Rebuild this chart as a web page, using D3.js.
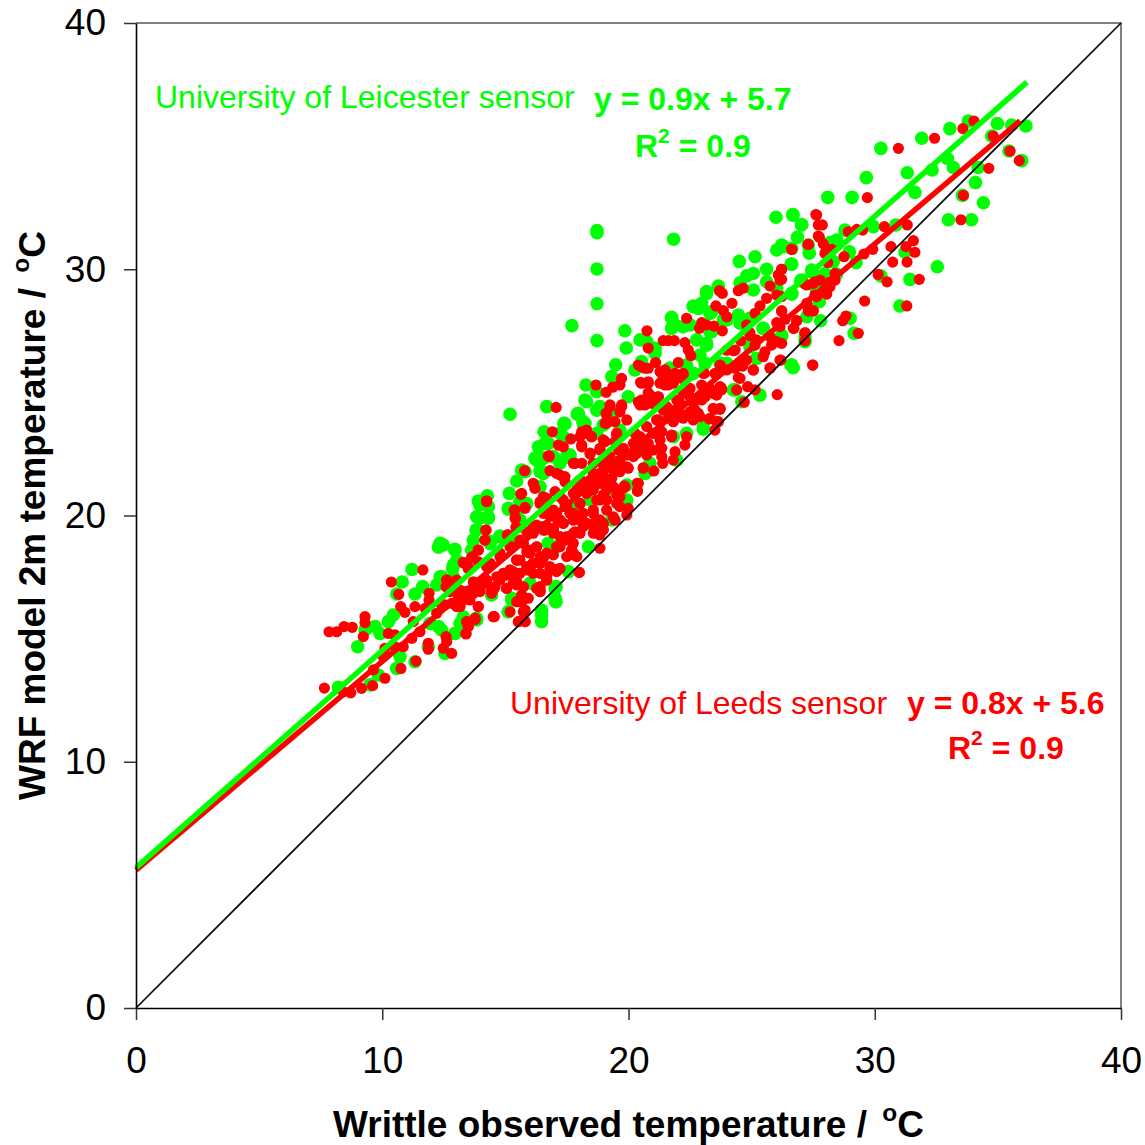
<!DOCTYPE html>
<html>
<head>
<meta charset="utf-8">
<script src="https://cdn.jsdelivr.net/npm/d3@7"></script>
<style>
body { margin: 0; background: #fff; }
svg { display: block; font-family: "Liberation Sans", Arial, sans-serif; }
</style>
</head>
<body>
<svg width="1145" height="1145"></svg>
<script>
// tick values, both axes run 0-40
let ticks = [0, 10, 20, 30, 40];

// [observed, model]
let leicesterPoints = [
[30.25,34.91],[31.91,35.32],[33.05,35.71],[33.8,36.02],[34.98,35.92],[35.56,35.86],[36.14,35.82],[34.75,35.41],[31.32,33.92],[32.33,34.03],
[32.95,34.5],[33.19,34.13],[34.2,34.13],[29.66,33.72],[31.63,33.12],[28.09,32.92],[29.08,32.92],[34.09,33.52],[33.56,33.0],[34.41,32.7],
[32.99,32.01],[33.93,32.01],[35.45,34.8],[35.97,34.41],[26.67,32.2],[27.03,31.8],[26.86,31.3],[28.79,31.59],[29.94,31.73],[30.86,31.8],
[28.45,31.19],[28.18,31.08],[27.3,30.98],[26.29,30.92],[28.97,30.71],[29.24,30.27],[28.32,30.31],[26.6,30.21],[27.98,29.83],[27.46,29.9],
[26.99,29.53],[26.63,29.02],[28.45,29.81],[27.64,29.16],[27.75,28.68],[27.24,28.07],[27.8,27.91],[29.0,28.01],[29.16,27.4],[30.25,29.73],
[31.23,30.69],[31.43,29.59],[31.02,28.51],[32.54,30.1],[27.17,27.26],[26.22,27.29],[26.6,26.11],[26.69,26.0],
[18.72,31.57],[18.72,31.48],[21.83,31.22],[18.72,30.01],[18.72,28.6],[17.7,27.71],[18.72,27.1],[19.85,27.5],[19.91,26.8],[25.99,32.11],
[26.68,32.22],[27.03,31.82],[26.22,30.98],[26.02,30.78],[26.63,30.85],[27.34,30.65],[25.14,30.51],[24.5,30.32],[26.63,30.21],[25.61,30.0],
[25.07,29.83],[24.8,29.73],[24.53,29.45],[23.65,29.32],[23.17,29.09],[25.61,29.49],[25.07,29.16],[26.02,29.23],[26.63,28.99],[27.44,29.97],
[27.03,29.56],[22.63,28.51],[22.97,28.62],[23.38,28.28],[21.75,28.05],[21.89,27.74],[22.5,27.74],[23.38,27.46],[24.46,28.14],[23.99,27.94],
[25.47,27.6],[26.22,27.33],[27.17,27.06],[26.63,26.11],[25.34,24.89],[24.6,24.62],[23.04,23.5],[20.47,27.13],[21.08,26.79],[23.17,26.92],
[22.77,27.13],[19.48,26.12],[20.26,25.91],[21.68,25.98],[23.11,26.18],[19.32,25.64],[18.27,25.3],[18.23,24.69],[18.71,25.03],[18.84,24.42],
[19.99,24.82],[16.68,24.42],[17.92,24.12],[17.42,23.72],[18.23,23.74],[16.57,23.4],[16.34,22.79],[16.2,22.32],[16.95,22.39],[17.62,22.39],
[15.8,21.78],[16.54,21.71],[16.41,21.17],[20.74,21.78],[21.96,22.25],[22.36,23.34],[24.26,25.1],[23.72,26.18],[24.93,26.86],
[15.19,24.11],[17.94,24.11],[17.39,23.72],[16.74,22.93],[17.35,23.2],[16.27,22.25],[17.49,22.39],[15.66,21.85],[16.41,21.85],[15.46,21.4],
[15.16,20.9],[14.27,20.8],[13.9,20.59],[14.31,20.36],[13.97,19.89],[14.31,19.89],[15.12,20.26],[13.83,19.41],[14.78,19.17],[12.35,18.87],
[12.28,18.71],[12.95,18.63],[13.7,19.0],[13.63,18.6],[13.02,18.19],[12.86,17.85],[11.21,17.81],[10.81,17.3],[11.64,17.11],[11.33,16.81],
[10.59,16.81],[12.21,17.18],[12.35,17.51],[10.45,15.96],[10.25,15.69],[9.71,15.49],[9.91,15.21],[9.3,15.35],[9.0,14.67],[12.28,15.49],
[11.94,15.62],[12.95,15.21],[11.87,14.67],[12.55,14.4],[11.33,14.06],[10.72,14.27],[10.59,13.79],[9.84,13.52],[9.5,13.12],[8.22,13.02],
[13.29,15.89],[13.83,15.83],[15.12,16.09],[15.26,16.57],[16.47,16.16],[16.47,15.69],[17.06,16.5],[17.06,17.11],[17.56,17.72],[18.37,18.73],
[14.38,18.94],[15.87,20.49],[15.46,20.09],[14.44,16.77],[15.32,18.87],[12.89,17.51],[19.93,20.63],[17.02,16.64],[19.05,20.83],[17.9,20.29],[18.16,23.74],
[17.96,24.15],[18.16,23.81],[17.38,23.74],[17.22,23.34],[16.61,22.93],[17.62,22.46],[16.54,22.32],[17.22,22.12],[16.41,21.78],[18.71,24.28],
[18.98,23.68],[18.71,23.34],[19.38,24.15],[19.65,23.47],[18.3,24.62],[19.93,21.24],[20.67,21.71],[20.87,22.12],[21.82,23.2],[19.79,20.49],
[19.32,19.82],[18.44,20.63],[13.97,20.43],[13.83,19.95],[14.31,19.95],[13.81,19.41],[14.78,19.14],[14.38,18.87],[12.48,18.8],[12.95,18.6],
[12.89,17.99],[12.41,17.51],[15.12,20.29],[15.59,19.82],[15.59,20.56],[17.02,17.04],[17.04,16.5],[16.47,15.96],[15.12,16.09],[15.26,16.64],
[13.83,15.76],[13.16,15.62],[12.95,15.21],[12.41,15.35],[16.0,17.25],[17.08,18.73],[16.74,18.87],[21.75,28.01],[21.75,27.6],[22.22,27.67],
[22.63,28.48],[22.84,28.41],[23.17,29.02],[23.31,28.21],[23.31,27.46],[23.85,27.94],[24.53,27.81],[24.93,28.01],[25.47,27.6],[24.33,25.1],
[20.74,27.06],[21.08,26.59],[20.53,26.25],[21.68,25.98],[22.36,26.11],[23.17,26.99],[22.9,26.52],[25.2,26.38],[23.99,26.18],[22.63,25.77],[23.04,23.6]
];

let leedsPoints = [
[30.96,34.91],[32.43,35.32],[33.58,35.71],[34.03,36.02],[34.81,35.41],[35.49,34.8],[35.87,34.41],[34.63,34.1],[29.7,32.91],[33.6,33.0],
[33.5,32.01],[27.64,32.2],[27.87,31.8],[27.75,31.3],[28.93,31.52],[29.27,31.62],[29.51,31.59],[30.39,31.73],[31.32,31.8],[27.3,31.01],
[26.63,30.81],[27.91,31.03],[28.25,30.81],[27.98,30.65],[28.75,30.51],[28.09,30.27],[26.22,30.0],[26.22,29.59],[29.56,30.62],[29.92,30.81],
[30.66,30.92],[31.57,31.16],[31.27,30.92],[31.63,30.69],[30.73,30.29],[31.31,30.29],[30.14,29.79],[30.5,29.49],[31.81,29.59],[31.3,28.51],
[29.59,28.71],[28.83,28.1],[28.7,27.91],[29.33,27.4],[28.55,27.1],[27.17,27.42],[27.17,27.09],[27.48,26.11],[26.69,27.6],[26.83,27.91],
[26.22,28.28],[26.36,27.97],[27.24,28.62],[27.3,28.3],[27.5,28.3],[27.64,28.89],[28.05,28.99],[28.18,29.29],[28.39,29.56],[28.18,29.48],
[27.78,29.56],[27.5,29.43],[27.17,29.4],[28.39,29.83],[26.22,28.89],[26.22,26.99],[26.19,26.31],
[20.75,27.5],[20.8,26.8],[21.41,27.1],[21.62,27.1],[21.86,27.1],[22.29,27.02],[22.43,26.72],[22.53,26.49],[22.36,28.01],[22.97,27.83],
[22.88,27.6],[23.17,27.74],[23.47,27.69],[23.81,27.5],[23.55,28.51],[23.85,28.32],[23.99,28.07],[24.2,28.62],[23.69,29.13],[23.81,29.02],
[24.46,29.13],[24.66,29.23],[25.75,29.32],[25.61,28.82],[26.02,28.95],[25.34,28.51],[25.14,28.21],[26.63,30.81],[27.3,31.01],[27.61,32.22],
[27.71,31.8],[27.71,31.35],[26.22,30.0],[26.08,29.77],[26.15,29.56],[27.24,29.36],[27.57,29.49],[27.57,28.95],[27.26,28.55],[27.5,28.32],
[26.22,28.32],[26.02,27.83],[26.83,27.91],[26.72,27.6],[27.17,27.42],[27.17,27.1],[26.02,27.06],[25.81,26.92],[25.54,26.65],[25.47,26.45],
[26.15,26.31],[25.75,26.0],[27.48,26.11],[26.04,24.91],[24.8,27.74],[24.93,27.3],[24.56,27.09],[25.14,26.92],[23.99,26.71],[24.26,26.69],
[24.8,26.31],[24.64,26.07],[25.07,25.91],[24.46,25.6],[23.72,26.11],[23.99,25.91],[23.58,25.77],[23.08,25.77],[22.02,26.21],[21.1,26.21],
[20.4,26.11],[20.67,25.98],[21.41,25.8],[21.68,25.64],[22.22,25.71],[21.89,25.77],[21.41,25.37],[21.62,25.3],[20.49,25.41],[20.8,25.43],
[19.72,25.57],[19.65,25.3],[18.68,25.3],[19.09,25.0],[19.36,25.21],[19.72,24.49],[19.65,24.21],[19.25,24.49],[19.09,24.15],[20.4,24.62],
[20.67,24.49],[20.87,24.76],[20.8,24.99],[21.21,24.82],[17.06,24.39],[16.91,23.4],[17.66,23.11],[17.15,22.86],[17.35,22.79],[18.1,23.4],
[18.3,23.47],[18.5,23.2],[18.1,22.79],[19.05,23.74],[19.52,23.34],[19.05,23.0],[18.84,22.73],[18.44,22.5],[17.83,22.12],[18.1,22.12],
[16.77,22.39],[16.81,21.82],[17.08,21.71],[17.42,21.58],[15.78,21.82],[16.13,21.31],[16.2,21.1],[15.66,20.9],[16.54,20.76],
[20.6,21.94],[21.03,21.81],[21.39,22.12],[21.82,22.25],[21.89,22.59],[21.75,23.2],[22.29,22.86],[22.36,23.2],[22.63,23.88],[22.83,24.15],
[22.5,24.21],[22.22,23.95],[22.97,24.69],[23.11,24.82],[23.58,24.89],[23.78,25.16],[23.44,25.03],[23.51,24.31],[23.72,24.31],[23.28,23.92],
[23.58,23.81],[23.51,23.47],[24.39,25.1],[24.84,25.23],[25.14,25.1],[24.7,24.6],[21.55,24.42],[21.96,24.69],[21.82,24.01],[22.22,24.08],
[21.28,23.81],[20.74,23.61],[20.26,23.34],[21.0,23.34],[21.28,23.47],[20.33,22.79],[20.74,22.53],[21.28,22.73],[21.35,22.39],[20.8,22.93],
[20.2,22.39],[19.79,22.73],[19.25,22.12],[19.65,22.12],[19.93,21.98],[19.83,21.2],[20.36,21.31],[20.36,20.99],[18.84,21.71],[18.44,21.44],
[18.84,21.31],[19.25,21.31],[18.57,21.04],[18.98,20.83],[19.52,21.04],[18.03,21.17],[17.76,20.9],[17.22,20.76],[19.65,20.76],
[18.23,23.36],[18.03,23.2],[16.74,22.42],[15.63,20.86],[14.24,20.6],[15.8,20.29],[15.36,20.22],[15.42,19.89],[16.41,20.56],[16.68,20.7],
[16.95,20.09],[17.42,20.36],[17.22,19.82],[17.76,19.82],[18.3,20.9],[18.57,21.31],[18.71,20.63],[18.16,20.09],[18.57,19.68],[18.16,19.55],
[14.21,19.41],[14.17,19.0],[15.43,19.52],[15.08,19.21],[13.9,18.6],[13.67,18.33],[13.29,18.08],[13.49,17.85],[14.24,17.92],[11.65,17.79],
[10.37,17.3],[10.67,16.8],[12.62,17.38],[12.59,17.11],[11.9,16.84],[11.9,16.57],[10.75,16.3],[10.92,16.07],[11.33,16.3],[11.74,16.23],
[12.21,16.03],[12.55,16.37],[13.02,16.3],[13.29,16.57],[13.56,16.84],[13.97,16.91],[13.9,16.3],[13.43,16.91],[13.09,16.7],[12.75,16.91],
[13.16,16.97],[14.24,17.38],[13.7,17.31],[14.44,17.04],[14.58,17.11],[15.05,17.58],[14.78,17.51],[15.46,18.19],[15.32,17.51],[15.05,17.04],
[15.46,17.31],[15.87,17.79],[16.13,18.06],[16.41,18.33],[16.0,18.6],[16.27,18.73],[16.68,17.51],[16.41,17.11],[16.41,16.91],[17.08,17.72],
[16.81,17.92],[15.73,16.57],[15.46,16.5],[15.8,16.16],[15.19,16.09],[15.53,15.69],[15.8,15.69],[14.55,15.89],[13.43,15.69],[13.77,15.78],
[13.49,15.49],[13.4,15.19],[18.0,17.69],[17.69,18.6],[17.9,18.33],[17.08,18.73],[17.22,19.14],[16.68,19.55],[16.13,19.28],[15.59,19.0],
[15.19,18.73],[14.78,18.47],[14.38,18.06],[9.3,15.89],[9.3,15.65],[8.78,15.46],[8.45,15.49],[8.15,15.28],[7.84,15.28],[9.23,15.08],
[10.25,15.21],[10.52,15.15],[11.26,15.69],[11.53,15.28],[11.2,15.01],[10.85,14.67],[10.52,14.67],[10.11,14.61],[11.87,14.81],[11.87,14.57],
[12.59,15.08],[12.62,14.88],[12.48,14.61],[12.82,14.4],[11.37,14.09],[10.76,13.79],[10.11,13.39],[9.61,13.09],[9.16,12.98],[8.72,12.8],
[8.42,12.84],[7.65,12.99],[10.04,14.27],[9.64,13.73],
[18.03,20.49],[18.57,20.22],[19.11,20.63],[19.38,21.17],[18.84,21.31],[18.3,21.04],[19.38,21.85],[18.57,22.12],[19.11,22.25],[19.65,22.25],
[18.03,21.44],[17.35,20.63],[17.08,19.95],[17.76,19.82],[18.3,19.68],[18.84,19.82],[19.38,19.95],[19.65,20.36],[18.03,19.28],[18.57,19.28],
[18.84,18.67],[17.49,19.0],[16.95,19.41],[16.54,19.55],[16.13,19.55],[17.76,18.47],[17.22,18.73],[16.68,18.47],[16.0,18.47],[15.59,18.19],
[16.41,18.06],[17.02,17.79],[16.68,17.38],[16.13,17.65],[15.19,17.79],[14.92,17.65],[15.73,17.11],[16.41,16.97],[15.32,17.25],[14.51,16.97],
[14.24,17.25],[18.0,17.69],[20.4,21.31],[20.37,20.99],[19.86,21.17],[20.74,22.66],[19.45,19.82],[19.93,20.02],[18.98,19.41],
[18.3,23.34],[18.1,22.86],[18.5,23.2],[18.44,22.53],[18.98,23.07],[19.52,23.27],[19.45,23.0],[18.84,22.66],[19.11,23.74],[19.45,23.81],
[19.93,23.88],[19.72,24.42],[19.25,24.42],[19.11,24.08],[20.47,24.49],[20.87,24.62],[21.14,23.88],[21.62,23.95],[21.55,24.28],[21.01,23.34],
[21.35,23.4],[21.75,23.27],[20.47,23.2],[20.2,22.93],[20.74,22.93],[21.28,23.07],[21.01,22.66],[21.35,22.73],[20.74,22.46],[20.33,22.53],
[19.93,22.46],[19.59,22.66],[19.25,22.39],[18.98,22.05],[19.52,22.05],[19.99,21.92],[19.65,21.78],[20.6,21.92],[19.32,21.51],[18.98,21.58],
[18.57,21.71],[18.16,21.37],[18.57,21.17],[19.11,21.04],[19.52,20.83],[18.84,20.63],[18.3,20.9],[17.9,21.04],[18.03,20.49],[17.49,20.36],
[17.08,20.09],[17.76,20.09],[16.68,20.09],[16.61,20.63],[18.03,19.82],[18.57,20.09],[19.11,20.22],[19.52,20.49],[18.57,19.55],[18.98,19.68],
[17.35,19.68],[16.95,19.48],[17.76,19.28],[16.61,19.41],[18.84,19.21],[19.45,19.82],[19.99,20.29],[19.79,21.1],[17.76,22.12],[17.22,21.64],
[17.02,20.97],[17.42,21.37],[16.78,22.42],
[14.24,20.56],[14.21,19.41],[14.17,19.0],[15.39,20.22],[15.39,19.89],[15.8,20.33],[15.12,19.21],[15.46,19.48],[15.87,19.34],[16.27,19.61],
[13.9,18.6],[13.63,18.3],[13.29,18.1],[13.49,17.92],[13.9,18.12],[12.62,17.38],[12.68,17.18],[13.02,17.38],[13.16,16.84],[13.43,16.91],
[13.7,16.84],[13.97,16.97],[14.44,16.84],[12.41,16.37],[12.82,16.43],[13.16,16.3],[13.9,16.3],[13.56,16.57],[14.51,15.89],[13.43,15.69],
[13.77,15.83],[13.49,15.49],[13.4,15.21],[14.92,17.65],[15.32,17.72],[14.65,17.51],[15.59,17.65],[14.78,17.38],[15.46,18.19],[15.87,18.53],
[16.27,18.73],[16.54,18.26],[16.95,18.4],[16.13,18.06],[15.87,17.92],[16.41,17.65],[16.81,17.79],[17.08,17.79],[16.68,17.38],[16.27,17.04],
[16.41,16.91],[15.05,17.04],[15.46,17.18],[15.66,16.77],[15.59,16.5],[15.93,16.64],[15.73,16.09],[15.53,15.69],[15.8,15.69],[16.54,19.41],
[16.95,19.28],[17.35,19.68],[17.62,20.09],[16.54,20.09],[16.95,20.22],[16.41,20.49],[17.08,19.89],[17.83,19.34],[17.49,19.14],[17.76,18.87],
[17.49,18.33],[17.76,18.4],[17.22,17.85],[15.73,18.87],[15.26,18.73],[14.78,18.33],[14.1,17.38],[13.83,17.25],
[20.53,26.04],[20.8,25.98],[21.28,25.84],[21.48,25.91],[21.75,25.71],[22.22,25.77],[22.16,25.57],[21.41,25.57],[21.48,25.3],[21.82,25.37],
[21.28,25.37],[20.53,25.37],[20.8,25.37],[20.87,24.89],[21.21,24.82],[20.53,24.69],[20.8,24.56],[22.5,25.16],[22.22,24.96],[22.5,24.82],
[22.97,25.3],[23.31,25.16],[23.72,25.23],[23.44,24.96],[23.78,25.1],[22.63,24.56],[22.97,24.82],[22.7,24.28],[22.9,24.01],[22.16,24.01],
[21.82,23.81],[21.21,23.88],[22.09,24.56],[21.89,24.28],[21.41,24.28],[21.08,24.49],[23.44,24.35],[23.72,24.35],[23.31,23.95],[23.65,23.81],
[25.75,25.98],[24.53,25.57],[25.07,25.91],[24.66,26.25],[24.33,25.98],[23.72,25.91],[23.51,25.77],[24.33,26.72],[25.75,27.26],[26.15,27.67],
[24.93,27.42],[25.2,27.13],[23.04,25.77]
];

// fitted lines: [x, y] at each end
let leicesterFit = [[0, 5.7], [36.18, 37.6]];
let leedsFit = [[0, 5.6], [35.9, 36.03]];
let oneToOne = [[0, 0], [40, 40]];

let margin = {top: 23, right: 24, bottom: 137, left: 136};
let svg = d3.select("svg");
let x = d3.scaleLinear([0, 40], [margin.left, 1145 - margin.right]);
let y = d3.scaleLinear([0, 40], [1145 - margin.bottom, margin.top]);
let line = d3.line().x(d => x(d[0])).y(d => y(d[1]));

// grey top and right edges of the plot box
svg.append("path")
    .attr("d", `M${x(0)},${y(40)}H${x(40)}V${y(0)}`)
    .attr("fill", "none")
    .attr("stroke", "#808080")
    .attr("stroke-width", 2);

svg.append("g")
    .selectAll("circle")
    .data(leicesterPoints)
    .join("circle")
    .attr("cx", d => x(d[0]))
    .attr("cy", d => y(d[1]))
    .attr("r", 6.8)
    .attr("fill", "#00ff00");

svg.append("g")
    .selectAll("circle")
    .data(leedsPoints)
    .join("circle")
    .attr("cx", d => x(d[0]))
    .attr("cy", d => y(d[1]))
    .attr("r", 5.6)
    .attr("fill", "#ff0000");

svg.append("path").attr("d", line(oneToOne))
    .attr("fill", "none").attr("stroke", "#000").attr("stroke-width", 1.6);
svg.append("path").attr("d", line(leedsFit))
    .attr("fill", "none").attr("stroke", "#ff0000").attr("stroke-width", 5.5);
svg.append("path").attr("d", line(leicesterFit))
    .attr("fill", "none").attr("stroke", "#00ff00").attr("stroke-width", 5.5);

let xAxis = svg.append("g")
    .attr("transform", `translate(0,${y(0)})`)
    .call(d3.axisBottom(x).tickValues(ticks).tickSize(12).tickPadding(27).tickSizeOuter(0));
let yAxis = svg.append("g")
    .attr("transform", `translate(${x(0)},0)`)
    .call(d3.axisLeft(y).tickValues(ticks).tickSize(12).tickPadding(18).tickSizeOuter(0));

for (const axis of [xAxis, yAxis]) {
    axis.selectAll("text")
        .attr("font-family", "'Liberation Sans', Arial, sans-serif")
        .attr("font-size", 37)
        .attr("fill", "#000");
    axis.selectAll("line").attr("stroke", "#333").attr("stroke-width", 1.5);
    axis.select(".domain").attr("stroke", "#000").attr("stroke-width", 1.6);
}

// label with an optional raised part in the middle
function label(px, py, parts, opts) {
    let t = svg.append("text")
        .attr("x", px)
        .attr("y", py)
        .attr("font-size", opts.size)
        .attr("font-weight", opts.bold ? "bold" : "normal")
        .attr("fill", opts.fill || "#000")
        .attr("text-anchor", opts.anchor || "start");
    if (opts.rotate) t.attr("transform", `rotate(-90,${px},${py})`);
    for (const p of parts) {
        let s = t.append("tspan").text(p.text);
        if (p.dy) s.attr("dy", p.dy);
        if (p.dx) s.attr("dx", p.dx);
        if (p.small) s.attr("font-size", opts.size * 0.66);
    }
    return t;
}

label(333, 1137, [
    {text: "Writtle observed temperature / "},
    {text: "o", small: true, dy: -16, dx: 5},
    {text: "C", dy: 16}
], {size: 37, bold: true});

label(45, 800, [
    {text: "WRF model 2m temperature / "},
    {text: "o", small: true, dy: -16, dx: 5},
    {text: "C", dy: 16}
], {size: 37, bold: true, rotate: true});

label(155, 108, [{text: "University of Leicester sensor"}], {size: 32, fill: "#00ff00"});
label(594, 110, [{text: "y = 0.9x + 5.7"}], {size: 32, bold: true, fill: "#00ff00"});
label(635, 157, [
    {text: "R"},
    {text: "2", small: true, dy: -14},
    {text: " = 0.9", dy: 14}
], {size: 32, bold: true, fill: "#00ff00"});

label(510, 714, [{text: "University of Leeds sensor"}], {size: 32, fill: "#ff0000"});
label(907, 714, [{text: "y = 0.8x + 5.6"}], {size: 32, bold: true, fill: "#ff0000"});
label(948, 759, [
    {text: "R"},
    {text: "2", small: true, dy: -14},
    {text: " = 0.9", dy: 14}
], {size: 32, bold: true, fill: "#ff0000"});
</script>
</body>
</html>
